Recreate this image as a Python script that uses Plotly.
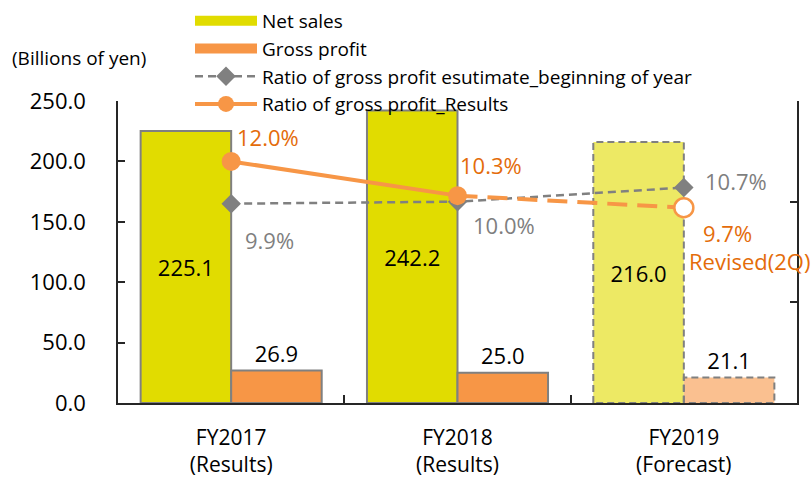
import plotly.graph_objects as go

# ---- data ----
categories = ["FY2017<br>(Results)", "FY2018<br>(Results)", "FY2019<br>(Forecast)"]
net_sales = [225.1, 242.2, 216.0]
gross_profit = [26.9, 25.0, 21.1]
ratio_estimate = [9.9, 10.0, 10.7]
ratio_results = [12.0, 10.3, 9.7]
forecast_index = 2

FONT = "Open Sans"
YELLOW = "#E1DC00"
YELLOW_F = "#EDE964"
ORANGE = "#F79646"
ORANGE_F = "#FAC090"
ORANGE_TXT = "#E46C0A"
GRAY = "#808080"
GRAY_TXT = "#7F7F7F"
AXIS = "#262626"
BAR_W = 0.4

xs = list(range(len(categories)))

fig = go.Figure()

# legend-only keys for the bar series (wide rectangles like the reference)
fig.add_trace(go.Scatter(x=[None], y=[None], mode="lines", name="Net sales",
                         line=dict(color=YELLOW, width=13), legendgroup="ns", legendrank=1))
fig.add_trace(go.Scatter(x=[None], y=[None], mode="lines", name="Gross profit",
                         line=dict(color=ORANGE, width=13), legendgroup="gp", legendrank=2))

# Net sales bars
fig.add_trace(go.Bar(
    x=xs, y=net_sales, name="Net sales", width=BAR_W, offset=-BAR_W, showlegend=False,
    legendgroup="ns",
    marker=dict(color=[YELLOW if i != forecast_index else YELLOW_F for i in xs],
                line=dict(color=[GRAY if i != forecast_index else "rgba(0,0,0,0)" for i in xs], width=2)),
    text=[f"{v:.1f}" for v in net_sales], textposition="inside", insidetextanchor="middle",
    textfont=dict(size=22, color="black", family=FONT),
))
# Gross profit bars
fig.add_trace(go.Bar(
    x=xs, y=gross_profit, name="Gross profit", width=BAR_W, offset=0, showlegend=False,
    legendgroup="gp",
    marker=dict(color=[ORANGE if i != forecast_index else ORANGE_F for i in xs],
                line=dict(color=[GRAY if i != forecast_index else "rgba(0,0,0,0)" for i in xs], width=2)),
    text=[f"{v:.1f}" for v in gross_profit], textposition="outside",
    textfont=dict(size=22, color="black", family=FONT), cliponaxis=False,
))

# dashed outlines for forecast bars
fi = forecast_index
for vals, off, grp in ((net_sales, -BAR_W, "ns"), (gross_profit, 0, "gp")):
    x0, x1 = fi + off, fi + off + BAR_W
    fig.add_trace(go.Scatter(
        x=[x0, x0, x1, x1, x0], y=[0, vals[fi], vals[fi], 0, 0], mode="lines",
        line=dict(color=GRAY, width=2, dash="7px,4px"), showlegend=False, hoverinfo="skip",
        legendgroup=grp,
    ))

# Ratio estimate (gray dashed w/ diamonds)
fig.add_trace(go.Scatter(
    x=xs, y=ratio_estimate, yaxis="y2", mode="lines+markers",
    name="Ratio of gross profit esutimate_beginning of year",
    line=dict(color=GRAY, width=2.5, dash="8px,5px"),
    marker=dict(symbol="diamond", size=15, color=GRAY), legendrank=3,
))
# Ratio results: revised forecast segment (dashed) with hollow marker
fig.add_trace(go.Scatter(
    x=xs[1:], y=ratio_results[1:], yaxis="y2", mode="lines+markers",
    line=dict(color=ORANGE, width=4, dash="20px,10px"),
    marker=dict(symbol="circle", size=19, color="white", line=dict(color=ORANGE, width=2.5),
                opacity=[0, 1]),
    showlegend=False, legendgroup="res",
))
# Ratio results: actuals (solid)
fig.add_trace(go.Scatter(
    x=xs[:2], y=ratio_results[:2], yaxis="y2", mode="lines+markers",
    name="Ratio of gross profit_Results", legendgroup="res",
    line=dict(color=ORANGE, width=4),
    marker=dict(symbol="circle", size=19, color=ORANGE), legendrank=4,
))

# percentage labels
ann = []
est_shift = [(12, -36), (13, -23), (19, 7)]
for i, (v, (dx, dy)) in enumerate(zip(ratio_estimate, est_shift)):
    ann.append(dict(x=i, y=v, yref="y2", xref="x", text=f"{v:.1f}%", showarrow=False,
                    xanchor="left", yanchor="middle", xshift=dx, yshift=dy,
                    font=dict(size=22, color=GRAY_TXT, family=FONT)))
res_shift = [(4, 24), (0, 31), (17, -25)]
for i, (v, (dx, dy)) in enumerate(zip(ratio_results, res_shift)):
    ann.append(dict(x=i, y=v, yref="y2", xref="x", text=f"{v:.1f}%", showarrow=False,
                    xanchor="left", yanchor="middle", xshift=dx, yshift=dy,
                    font=dict(size=22, color=ORANGE_TXT, family=FONT)))
ann.append(dict(x=forecast_index, y=ratio_results[forecast_index], yref="y2", xref="x",
                text="Revised(2Q)", showarrow=False, xanchor="left", yanchor="middle",
                xshift=3, yshift=-53, font=dict(size=22, color=ORANGE_TXT, family=FONT)))
ann.append(dict(xref="paper", yref="paper", x=(10 - 118) / 679, y=(403 - 58) / 302,
                text="(Billions of yen)", showarrow=False, xanchor="left", yanchor="middle",
                font=dict(size=19, color="black", family=FONT)))

fig.update_layout(
    width=812, height=480,
    margin=dict(l=118, r=15, t=101, b=77, autoexpand=False),
    paper_bgcolor="white", plot_bgcolor="white",
    font=dict(family=FONT, color="black"),
    barmode="overlay",
    showlegend=True,
    legend=dict(xref="container", yref="container", x=190 / 812, y=1 - 2 / 480,
                xanchor="left", yanchor="top", font=dict(size=19, color="black", family=FONT),
                itemwidth=62, tracegroupgap=0, bgcolor="rgba(0,0,0,0)", traceorder="normal",
                groupclick="toggleitem"),
    xaxis=dict(range=[-0.5, 2.5], tickmode="array", tickvals=xs, ticktext=categories,
               ticks="", showline=True, linecolor=AXIS, linewidth=1.5, showgrid=False,
               zeroline=False, tickfont=dict(size=21, family=FONT, color="black"),
               ticklabelstandoff=15,
               minor=dict(tickmode="array", tickvals=[0.5, 1.5], ticks="inside",
                          ticklen=8, tickcolor=AXIS, tickwidth=1.5)),
    yaxis=dict(range=[0, 250], dtick=50, tickformat=".1f", ticks="inside", ticklen=7,
               tickcolor=AXIS, tickwidth=1.5, showline=True, linecolor=AXIS, linewidth=1.5,
               showgrid=False, zeroline=False, ticklabelstandoff=26,
               tickfont=dict(size=22, family=FONT, color="black")),
    yaxis2=dict(range=[0, 15], dtick=5, overlaying="y", side="right", ticks="inside",
                ticklen=7, tickcolor=AXIS, tickwidth=1.5, showline=True, linecolor=AXIS,
                linewidth=1.5, showticklabels=False, showgrid=False, zeroline=False),
    annotations=ann,
)

fig.write_html("out.html", config={"displayModeBar": False},
               post_script="document.body.style.margin='0';")
